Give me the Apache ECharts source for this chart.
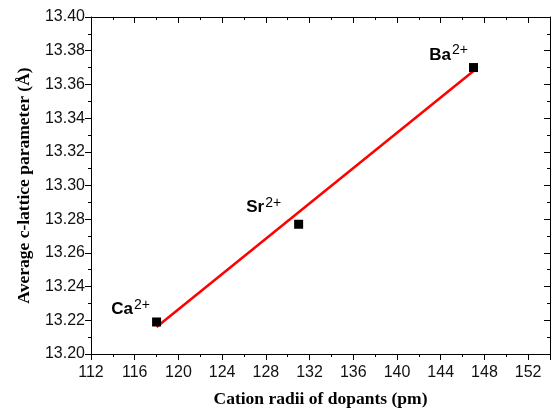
<!DOCTYPE html>
<html>
<head>
<meta charset="utf-8">
<script src="https://cdn.jsdelivr.net/npm/echarts@6/dist/echarts.min.js"></script>
<style>
html,body{margin:0;padding:0;background:#fff;}
#c{width:553px;height:413px;}
</style>
</head>
<body>
<div id="c"></div>
<script>
// ---- data ----
var ions = ['Ca', 'Sr', 'Ba'];
var charges = ['2+', '2+', '2+'];
var radii = [118, 131, 147];
var latticeC = [13.219, 13.277, 13.370];
var fitX = [118, 147];
var fitY = [13.216, 13.368];
var xTicks = [112, 116, 120, 124, 128, 132, 136, 140, 144, 148, 152];
var yTicks = [13.20, 13.22, 13.24, 13.26, 13.28, 13.30, 13.32, 13.34, 13.36, 13.38, 13.40];

// ---- layout (not data) ----
var labelOffsets = [[-26, -14], [-35, -18], [-25, -14]];

var chart = echarts.init(document.getElementById('c'), null, {renderer: 'canvas'});

var pts = radii.map(function (r, i) {
  return {
    value: [r, latticeC[i]],
    label: {
      show: true,
      position: 'inside',
      offset: labelOffsets[i],
      formatter: '{b|' + ions[i] + '}{s|' + charges[i] + '}'
    }
  };
});
var fit = fitX.map(function (x, i) { return [x, fitY[i]]; });

var axisLineStyle = {show: true, lineStyle: {color: '#000', width: 1}};
var tickFont = {fontFamily: 'Liberation Sans, Arial, sans-serif', fontSize: 16, color: '#111'};

chart.setOption({
  animation: false,
  backgroundColor: '#fff',
  grid: {left: 91, top: 17, width: 464, height: 341, containLabel: false},
  xAxis: [{
    type: 'value', position: 'bottom',
    min: xTicks[0], max: 154, interval: 4,
    axisLine: axisLineStyle,
    axisTick: {show: true, inside: false, length: 6, lineStyle: {color: '#000'}},
    minorTick: {show: true, splitNumber: 2, length: 3, lineStyle: {color: '#000'}},
    splitLine: {show: false},
    axisLabel: Object.assign({margin: 11, formatter: function (v) { return xTicks.indexOf(v) >= 0 ? String(v) : ''; }}, tickFont),
    name: 'Cation radii of dopants (pm)',
    nameLocation: 'middle', nameGap: 36,
    nameTextStyle: {fontFamily: 'Liberation Serif, Times New Roman, serif', fontWeight: 'bold', fontSize: 17.5, color: '#000'}
  }, {
    type: 'value', position: 'top',
    min: xTicks[0], max: 154, interval: 4,
    axisLine: axisLineStyle,
    axisTick: {show: true, inside: true, length: 6, lineStyle: {color: '#000'}},
    minorTick: {show: true, splitNumber: 2, length: 3, lineStyle: {color: '#000'}},
    splitLine: {show: false},
    axisLabel: {show: false}
  }],
  yAxis: [{
    type: 'value', position: 'left',
    min: yTicks[0], max: yTicks[yTicks.length - 1], interval: 0.02,
    axisLine: axisLineStyle,
    axisTick: {show: true, inside: false, length: 6, lineStyle: {color: '#000'}},
    minorTick: {show: true, splitNumber: 2, length: 3, lineStyle: {color: '#000'}},
    splitLine: {show: false},
    axisLabel: Object.assign({margin: 6, formatter: function (v) { return v.toFixed(2); }}, tickFont),
    name: 'Average c-lattice parameter (Å)',
    nameLocation: 'middle', nameGap: 58,
    nameTextStyle: {fontFamily: 'Liberation Serif, Times New Roman, serif', fontWeight: 'bold', fontSize: 17.5, color: '#000'}
  }, {
    type: 'value', position: 'right',
    min: yTicks[0], max: yTicks[yTicks.length - 1], interval: 0.02,
    axisLine: axisLineStyle,
    axisTick: {show: true, inside: true, length: 6, lineStyle: {color: '#000'}},
    minorTick: {show: true, splitNumber: 2, length: 3, lineStyle: {color: '#000'}},
    splitLine: {show: false},
    axisLabel: {show: false}
  }],
  series: [{
    type: 'line',
    data: fit,
    xAxisIndex: 0, yAxisIndex: 0,
    symbol: 'none',
    lineStyle: {color: '#ff0000', width: 2.5},
    z: 2
  }, {
    type: 'scatter',
    data: pts,
    xAxisIndex: 0, yAxisIndex: 0,
    symbol: 'rect', symbolSize: 9,
    itemStyle: {color: '#000', opacity: 1},
    z: 3,
    label: {
      rich: {
        b: {fontFamily: 'Liberation Sans, Arial, sans-serif', fontWeight: 'bold', fontSize: 17, color: '#000', lineHeight: 20, verticalAlign: 'bottom'},
        s: {fontFamily: 'Liberation Sans, Arial, sans-serif', fontWeight: 'normal', fontSize: 14, color: '#000', lineHeight: 20, verticalAlign: 'top', padding: [0, 0, 7, 1]}
      }
    }
  }]
});
</script>
</body>
</html>
